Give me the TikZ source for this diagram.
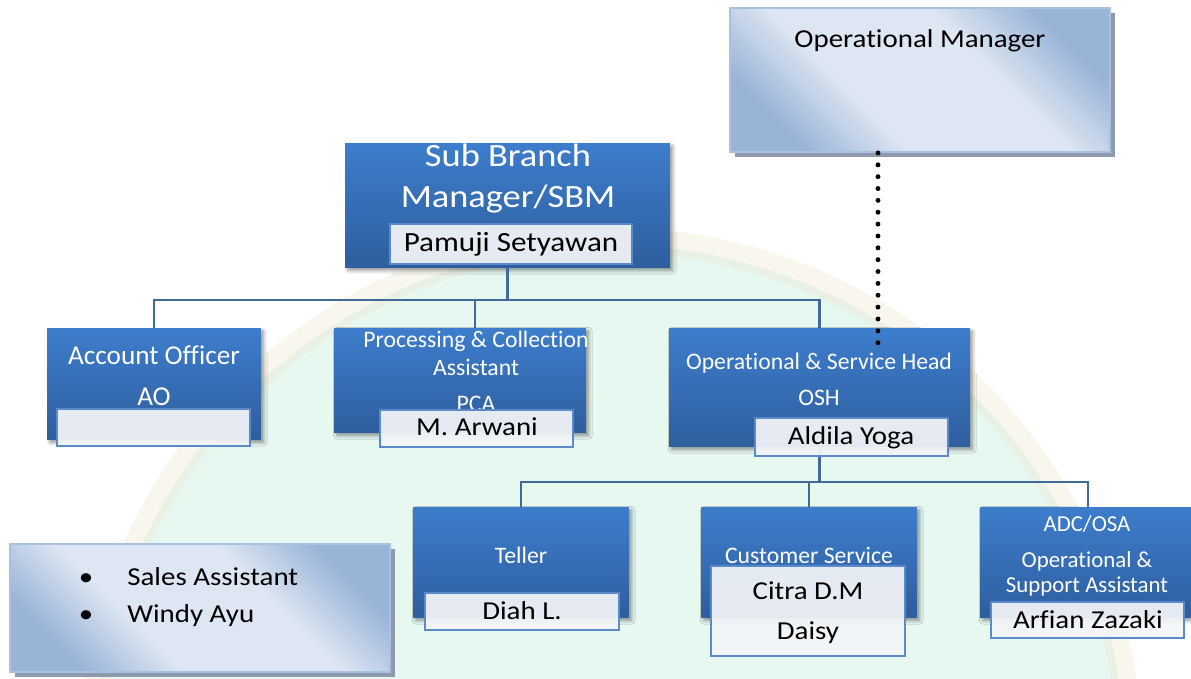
\documentclass[tikz,border=0pt]{standalone}
\usepackage{fontspec}
\setmainfont{Carlito}[Ligatures=NoCommon]
\newfontfamily\widefont{Carlito}[FakeStretch=1.12, Ligatures=NoCommon]
\usetikzlibrary{shadows,shadows.blur}

\definecolor{boxtop}{HTML}{3D7DCC}
\definecolor{boxbot}{HTML}{2E5E9E}
\definecolor{namefill}{HTML}{F3F5F9}
\definecolor{nameline}{HTML}{5B8AC9}
\definecolor{linkblue}{HTML}{41699A}
\definecolor{glassdark}{HTML}{9AB4D8}
\definecolor{glasslight}{HTML}{DDE6F2}
\definecolor{glassline}{HTML}{A9C1E1}
\definecolor{glassshadow}{HTML}{8E9AAB}
\definecolor{mint}{HTML}{DDF5EB}
\definecolor{sand}{HTML}{F0EAD3}

% pale glass fill: dark only towards two opposite corners
\pgfdeclareverticalshading{glassy}{100bp}{%
  color(0bp)=(glassdark); color(25bp)=(glassdark); color(39bp)=(glasslight);
  color(61bp)=(glasslight); color(75bp)=(glassdark); color(100bp)=(glassdark)}

\begin{document}
\begin{tikzpicture}[x=0.02cm,y=-0.02cm,
  rolebox/.style={draw=none, top color=boxtop, bottom color=boxbot, inner sep=0pt,
    blur shadow={shadow xshift=1.6pt, shadow yshift=-1.6pt, shadow blur steps=6, shadow opacity=40}},
  namebox/.style={draw=nameline, line width=1.1pt, fill=namefill, fill opacity=0.93, inner sep=0pt},
  glassbox/.style={draw=glassline, line width=1.1pt, inner sep=0pt,
    shading=glassy, shading angle=-45,
    drop shadow={shadow xshift=2.6pt, shadow yshift=-2.6pt, fill=glassshadow, opacity=1}},
  link/.style={draw=linkblue, line width=1.4pt},
  dotline/.style={line width=2.8pt, line cap=round, dash pattern=on 0pt off 6.75pt},
  lbl/.style={text=white, inner sep=0pt, anchor=base, font=\fontsize{13.5}{16}\selectfont},
  biglbl/.style={text=white, inner sep=0pt, anchor=base, font=\widefont\fontsize{18.5}{22}\selectfont},
  nametxt/.style={text=black, inner sep=0pt, anchor=base, font=\widefont\fontsize{14.7}{17}\selectfont},
]
\useasboundingbox (0,0) rectangle (1191,679);
\clip (0,0) rectangle (1191,679);

% faint emblem in the background
\fill[mint, fill opacity=0.75] (610,760) circle (515);
\draw[sand, line width=0.5cm, opacity=0.4] (610,760) circle (520);

% connector junctions
\coordinate (bus1) at (507.5,300);
\coordinate (bus2) at (819.5,482);
\coordinate (pcaTop) at (475,328);

% boxes
\node[glassbox, minimum width=7.6cm, minimum height=2.88cm] (opm) at (920,80) {};
\node[glassbox, minimum width=7.6cm, minimum height=2.56cm] (sales) at (200,608) {};

\node[rolebox, minimum width=6.5cm, minimum height=2.5cm] (sbm) at (507.5,205.5) {};
\node[rolebox, minimum width=4.28cm, minimum height=2.24cm] (ao) at (154,384) {};
\node[rolebox, minimum width=5.04cm, minimum height=2.1cm] (pca) at (460,380.5) {};
\node[rolebox, minimum width=6.02cm, minimum height=2.38cm] (osh) at (819.5,387.5) {};
\node[rolebox, minimum width=4.32cm, minimum height=2.22cm] (teller) at (521,562.5) {};
\node[rolebox, minimum width=4.32cm, minimum height=2.22cm] (cs) at (809,562.5) {};
\node[rolebox, minimum width=4.32cm, minimum height=2.22cm] (adc) at (1088,562.5) {};

% connectors
\draw[link] (sbm.south) -- (bus1);
\draw[link] (ao.north) |- (bus1);
\draw[link] (pcaTop) |- (bus1);
\draw[link] (osh.north) |- (bus1);
\draw[link] (osh.south) -- (bus2);
\draw[link] (teller.north) |- (bus2);
\draw[link] (cs.north) |- (bus2);
\draw[link] (adc.north) |- (bus2);

% titles
\node[nametxt] (opmT) at (920,48) {Operational Manager};
\node[biglbl] (sbmT1) at (508,167) {Sub Branch};
\node[biglbl] (sbmT2) at (508,208) {Manager/SBM};
\node[lbl, font=\fontsize{15.5}{18}\selectfont] (aoT1) at (154,364) {Account Officer};
\node[lbl, font=\fontsize{15.5}{18}\selectfont] (aoT2) at (154,405) {AO};
\node[lbl] (pcaT1) at (476,347) {Processing \& Collection};
\node[lbl] (pcaT2) at (476,375) {Assistant};
\node[lbl] (pcaT3) at (476,411) {PCA};
\node[lbl] (oshT1) at (819,369) {Operational \& Service Head};
\node[lbl] (oshT2) at (819,405) {OSH};
\node[lbl] (tellerT) at (521,563) {Teller};
\node[lbl] (csT) at (809,563) {Customer Service};
\node[lbl, font=\fontsize{13}{15}\selectfont] (adcT1) at (1087,531) {ADC/OSA};
\node[lbl, font=\fontsize{13}{15}\selectfont] (adcT2) at (1087,567) {Operational \&};
\node[lbl, font=\fontsize{13}{15}\selectfont] (adcT3) at (1087,592) {Support Assistant};

% name plates
\node[namebox, minimum width=4.84cm, minimum height=0.8cm] (sbmN) at (511,244) {};
\node[namebox, minimum width=3.86cm, minimum height=0.74cm] (aoN) at (153.5,427.5) {};
\node[namebox, minimum width=3.86cm, minimum height=0.74cm] (pcaN) at (476.5,428.5) {};
\node[namebox, minimum width=3.86cm, minimum height=0.76cm] (oshN) at (851.5,437) {};
\node[namebox, minimum width=3.88cm, minimum height=0.74cm] (tellerN) at (522,611.5) {};
\node[namebox, minimum width=3.88cm, minimum height=1.8cm] (csN) at (808,611) {};
\node[namebox, minimum width=3.86cm, minimum height=0.72cm] (adcN) at (1087.5,620) {};

\node[nametxt, font=\widefont\fontsize{15.8}{18}\selectfont] (sbmName) at (511,252) {Pamuji Setyawan};
\node[nametxt] (pcaName) at (477,435) {M. Arwani};
\node[nametxt] (oshName) at (851,444) {Aldila Yoga};
\node[nametxt] (tellerName) at (522,619) {Diah L.};
\node[nametxt] (csName1) at (808,599) {Citra D.M};
\node[nametxt] (csName2) at (808,639) {Daisy};
\node[nametxt] (adcName) at (1088,628) {Arfian Zazaki};

% sales list
\node[nametxt] (bul1) at (86,585) {•};
\node[nametxt] (bul2) at (86,622) {•};
\node[nametxt, anchor=base west] (sales1) at (127,585) {Sales Assistant};
\node[nametxt, anchor=base west] (sales2) at (127,622) {Windy Ayu};

% dotted reporting line
\coordinate (dotEnd) at (878,354);
\draw[dotline] (opm.south -| dotEnd) -- (dotEnd);
\end{tikzpicture}
\end{document}
